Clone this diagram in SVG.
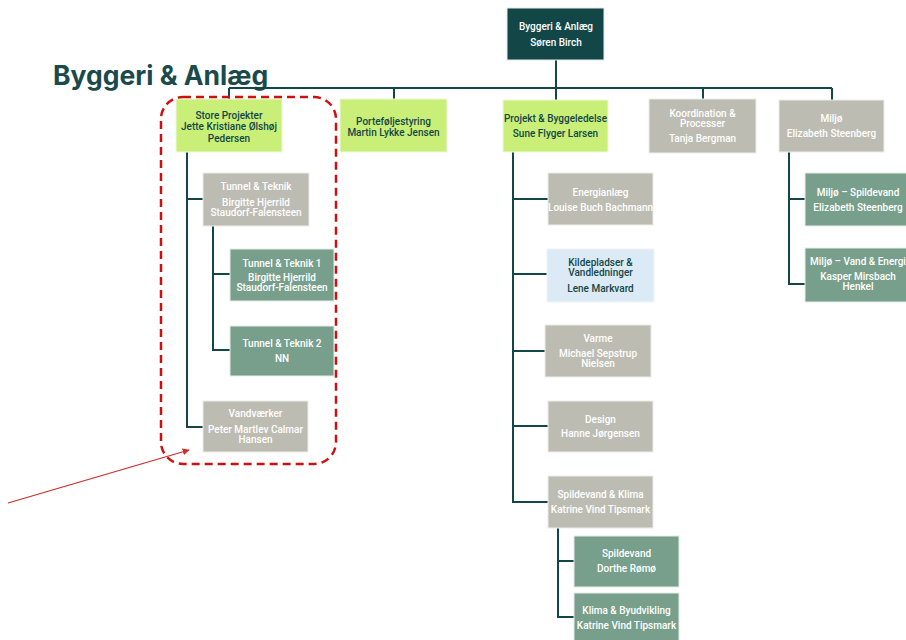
<svg xmlns="http://www.w3.org/2000/svg" width="906" height="640" viewBox="0 0 906 640">
<defs>
<style>
.t{font-family:Roboto,"Liberation Sans",sans-serif;font-size:10px;font-weight:500;text-anchor:middle}
.w{fill:#ffffff}
.d{fill:#134647}
.dark{fill:#134647;stroke:#e6e8e6;stroke-width:1}
.lg{fill:#c9ef78;stroke:#eef7dc;stroke-width:1}
.gr{fill:#bdbcb2;stroke:#ececea;stroke-width:1}
.gn{fill:#789f8b;stroke:#e4ece8;stroke-width:1}
.bl{fill:#dbeaf5;stroke:#eef4f9;stroke-width:1}
.c{fill:none;stroke:#134647;stroke-width:2}
</style>
<marker id="ah" viewBox="0 0 10 10" refX="9" refY="5" markerWidth="7" markerHeight="7" orient="auto" markerUnits="userSpaceOnUse">
<path d="M0,0 L10,5 L0,10 z" fill="#d42a2a"/>
</marker>
</defs>
<rect width="906" height="640" fill="#ffffff"/>
<text x="53" y="85" font-family="Inter,Roboto,'Liberation Sans',sans-serif" font-size="26.5" font-weight="700" fill="#1a4a4c">Byggeri &amp; Anlæg</text>

<g id="connectors">
<path class="c" d="M556,60 V88 M229,88 H832 M229,88 V99 M394,88 V99 M556,88 V100 M703,88 V99 M832,88 V100"/>
<path class="c" d="M187,152 V427 H203 M187,199 H203 M213,226 V350 H230 M213,274 H230"/>
<path class="c" d="M513,152 V502 H548 M513,199 H548 M513,274 H547 M513,351 H545 M513,426 H548 M558,528 V617 H574 M558,561 H574"/>
<path class="c" d="M789,152 V284 H805 M789,199 H805"/>
</g>

<g id="n-top"><rect class="dark" x="507" y="8" width="97" height="52"/>
<text class="t w" x="556" y="29.5">Byggeri &amp; Anlæg</text><text class="t w" x="556" y="45.5">Søren Birch</text></g>

<g id="n-store"><rect class="lg" x="176" y="99" width="106" height="53"/>
<text class="t d" x="229" y="118.5">Store Projekter</text><text class="t d" x="229" y="130">Jette Kristiane Ølshøj</text><text class="t d" x="229" y="141.5">Pedersen</text></g>

<g id="n-portefolje"><rect class="lg" x="340" y="99" width="107" height="53"/>
<text class="t d" x="393.5" y="124.5">Porteføljestyring</text><text class="t d" x="393.5" y="135.5">Martin Lykke Jensen</text></g>

<g id="n-projekt"><rect class="lg" x="503" y="100" width="105" height="52"/>
<text class="t d" x="555.5" y="121.5">Projekt &amp; Byggeledelse</text><text class="t d" x="555.5" y="136.5">Sune Flyger Larsen</text></g>

<g id="n-koord"><rect class="gr" x="649" y="99" width="107" height="54"/>
<text class="t w" x="702.5" y="116.5">Koordination &amp;</text><text class="t w" x="702.5" y="126.5">Processer</text><text class="t w" x="702.5" y="141.5">Tanja Bergman</text></g>

<g id="n-miljo"><rect class="gr" x="779" y="100" width="105" height="52"/>
<text class="t w" x="831.5" y="121.5">Miljø</text><text class="t w" x="831.5" y="136.5">Elizabeth Steenberg</text></g>

<g id="n-tunnel"><rect class="gr" x="203" y="173" width="106" height="53"/>
<text class="t w" x="256" y="189.5">Tunnel &amp; Teknik</text><text class="t w" x="256" y="205.5">Birgitte Hjerrild</text><text class="t w" x="256" y="215.5">Staudorf-Falensteen</text></g>

<g id="n-tunnel1"><rect class="gn" x="230" y="249" width="104" height="52"/>
<text class="t w" x="282" y="266.5">Tunnel &amp; Teknik 1</text><text class="t w" x="282" y="280.5">Birgitte Hjerrild</text><text class="t w" x="282" y="290.5">Staudorf-Falensteen</text></g>

<g id="n-tunnel2"><rect class="gn" x="230" y="326" width="104" height="50"/>
<text class="t w" x="282" y="346.5">Tunnel &amp; Teknik 2</text><text class="t w" x="282" y="361.5">NN</text></g>

<g id="n-vand"><rect class="gr" x="203" y="401" width="105" height="51"/>
<text class="t w" x="255.5" y="416.5">Vandværker</text><text class="t w" x="255.5" y="432.5">Peter Martlev Calmar</text><text class="t w" x="255.5" y="442.5">Hansen</text></g>

<g id="n-energi"><rect class="gr" x="548" y="173" width="105" height="52"/>
<text class="t w" x="600.5" y="195.5">Energianlæg</text><text class="t w" x="600.5" y="210.5">Louise Buch Bachmann</text></g>

<g id="n-kilde"><rect class="bl" x="547" y="249" width="107" height="53"/>
<text class="t d" x="600.5" y="265.5">Kildepladser &amp;</text><text class="t d" x="600.5" y="275.5">Vandledninger</text><text class="t d" x="600.5" y="291.5">Lene Markvard</text></g>

<g id="n-varme"><rect class="gr" x="545" y="325" width="106" height="52"/>
<text class="t w" x="598" y="341.5">Varme</text><text class="t w" x="598" y="356.5">Michael Sepstrup</text><text class="t w" x="598" y="366.5">Nielsen</text></g>

<g id="n-design"><rect class="gr" x="548" y="401" width="105" height="51"/>
<text class="t w" x="600.5" y="422.5">Design</text><text class="t w" x="600.5" y="436.5">Hanne Jørgensen</text></g>

<g id="n-spildklima"><rect class="gr" x="548" y="476" width="105" height="52"/>
<text class="t w" x="600.5" y="497.5">Spildevand &amp; Klima</text><text class="t w" x="600.5" y="512.5">Katrine Vind Tipsmark</text></g>

<g id="n-spild"><rect class="gn" x="574" y="536" width="105" height="51"/>
<text class="t w" x="626.5" y="556.5">Spildevand</text><text class="t w" x="626.5" y="571.5">Dorthe Rømø</text></g>

<g id="n-klima"><rect class="gn" x="574" y="593" width="105" height="52"/>
<text class="t w" x="626.5" y="613.5">Klima &amp; Byudvikling</text><text class="t w" x="626.5" y="628.5">Katrine Vind Tipsmark</text></g>

<g id="n-miljospild"><rect class="gn" x="805" y="173" width="106" height="53"/>
<text class="t w" x="858" y="195.5">Miljø – Spildevand</text><text class="t w" x="858" y="210.5">Elizabeth Steenberg</text></g>

<g id="n-miljovand"><rect class="gn" x="805" y="248" width="106" height="54"/>
<text class="t w" x="858" y="265" >Miljø – Vand &amp; Energi</text><text class="t w" x="858" y="280">Kasper Mirsbach</text><text class="t w" x="858" y="290">Henkel</text></g>

<g id="highlight">
<rect x="161" y="97" width="175" height="367" rx="22" ry="22" fill="none" stroke="#cc1111" stroke-width="2.5" stroke-dasharray="8,5"/>
<line x1="8" y1="503" x2="189" y2="450" stroke="#d42a2a" stroke-width="1.3" marker-end="url(#ah)"/>
</g>
</svg>
